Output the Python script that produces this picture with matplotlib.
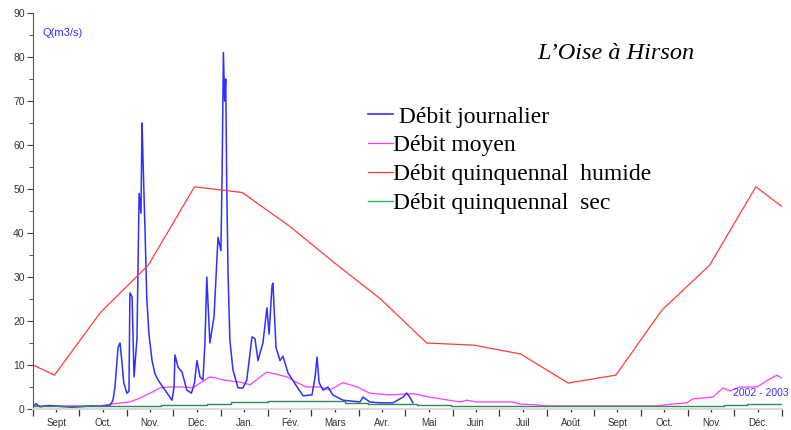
import numpy as np
import matplotlib
matplotlib.use('Agg')
import matplotlib.pyplot as plt

# axe des temps : jours depuis le 1er septembre 2002
t0 = np.datetime64('2002-09-01')
mois = ['Sept', 'Oct.', 'Nov.', 'Déc.', 'Jan.', 'Fév.', 'Mars', 'Avr.',
        'Mai', 'Juin', 'Juil', 'Août', 'Sept', 'Oct.', 'Nov.', 'Déc.']

# débit journalier
jour_j = [0, 2, 4.5, 10, 17.5, 25, 30.5, 38, 43.6, 50, 52, 53.3, 55.3, 56.6, 58, 59, 61, 62.4,
          63, 64.4, 65.7, 67.6, 69, 70.2, 70.9, 71.5, 72.8, 74, 75.4, 77.4, 79.3, 81.3, 85.8,
          90.4, 91.7, 92.3, 94.3, 96.9, 100, 103, 105, 106.6, 108.6, 110.5, 111.8, 113, 115,
          117.7, 120.3, 122.2, 123, 123.8, 124.6, 125.3, 126, 126.8, 128, 130, 133.3, 136.5,
          139, 142.4, 144.3, 146.3, 147.6, 149.5, 152.1, 153.5, 155.4, 156, 158, 160.6, 162.5,
          165.8, 171.7, 175.6, 181.4, 183.4, 184.7, 186, 188.6, 191.8, 195, 201.6, 212.6,
          214.6, 219, 225.6, 234, 240.6, 243, 245, 247]
debit_j = [0.6, 1.2, 0.5, 0.8, 0.6, 0.4, 0.5, 0.7, 0.6, 0.8, 2, 5, 14, 15, 10, 6, 3.6, 4,
           26.4, 25.5, 7.3, 16, 49, 44.5, 65, 57, 41, 25, 17, 11, 8, 6.6, 4.3,
           2, 5, 12.3, 9.5, 8.4, 4.3, 3.6, 6, 11, 7.3, 6.6, 15, 30, 15,
           21, 39, 36, 55, 81, 70, 75, 50, 31, 15.7, 8.9, 4.8, 4.8,
           6.6, 16.4, 16, 11, 12.7, 15, 23, 17, 28, 28.6, 14, 11, 12,
           8.2, 5, 3, 3.2, 7.3, 11.8, 6, 4.3, 5, 3.2, 2, 1.6,
           2.7, 1.6, 1.4, 1.4, 2.7, 3.6, 2.7, 1.4]

# débit moyen
jour_m = [0, 43.6, 50, 63, 69.6, 78, 82.6, 89, 97.5, 104, 108.6, 115, 119.6, 123.5, 134.6,
          141, 152, 160.6, 165, 171.7, 178, 186.6, 193, 201.6, 210.7, 219, 232, 247, 258,
          277.6, 282, 288.7, 312, 316.6, 325, 335, 405, 415, 425, 429, 442, 448.6, 453,
          459.7, 470.7, 478, 483.7, 487]
debit_m = [0.7, 0.7, 1.1, 1.6, 2.5, 3.9, 4.8, 5, 5, 4.8, 5.9, 7.3, 7, 6.6, 6.1,
           5.5, 8.4, 7.7, 7.3, 6, 5, 5, 4.3, 6, 5, 3.6, 3.2, 3.5, 2.7,
           1.6, 2, 1.6, 1.6, 1.1, 1.0, 0.7, 0.7, 1.1, 1.4, 2.3, 2.7, 4.8, 4.1,
           5, 5, 6.6, 7.7, 7]

# débit quinquennal humide (valeurs mensuelles)
dates_h = ['2002-09-01', '2002-09-15', '2002-10-15', '2002-11-15', '2002-12-15',
           '2003-01-15', '2003-02-15', '2003-03-15', '2003-04-15', '2003-05-15',
           '2003-06-15', '2003-07-15', '2003-08-15', '2003-09-15', '2003-10-15',
           '2003-11-15', '2003-12-15', '2004-01-01']
debit_h = [10, 7.7, 22, 32.7, 50.5, 49.2, 41.5, 33.5, 25, 15,
           14.5, 12.5, 5.9, 7.7, 22.5, 32.7, 50.5, 46]

# débit quinquennal sec (paliers)
dates_s = ['2002-09-01', '2002-11-23', '2002-12-23', '2003-01-08', '2003-02-01',
           '2003-03-23', '2003-04-07', '2003-05-09', '2003-05-31', '2003-11-24',
           '2003-12-09', '2003-12-25', '2004-01-01']
debit_s = [0.6, 0.8, 1.25, 1.6, 1.8, 1.4, 1.25, 0.9, 0.7, 1.0, 1.1, 1.25, 1.25]


def jours(dates):
    return (np.array(dates, dtype='datetime64[D]') - t0).astype(int)


debuts = np.arange('2002-09', '2004-01', dtype='datetime64[M]').astype('datetime64[D]')
bornes = (np.append(debuts, np.datetime64('2004-01-01')) - t0).astype(int)
milieux = (bornes[:-1] + bornes[1:]) / 2

fig = plt.figure(figsize=(7.91, 4.30), dpi=100)
ax = fig.add_axes([33 / 791, 21 / 430, 749 / 791, 396 / 430])

ax.plot(jour_m, debit_m, color='#ff3cff', lw=0.9, label='Débit moyen')
ax.plot(jour_j, debit_j, color='#2f2fff', lw=1.1, label=' Débit journalier')
ax.plot(jours(dates_h), debit_h, color='#ff3c3c', lw=0.9, label='Débit quinquennal  humide')
ax.step(jours(dates_s), debit_s, where='post', color='#2e8b57', lw=1.0,
        label='Débit quinquennal  sec')

ax.set_xlim(0, bornes[-1])
ax.set_ylim(0, 90)

for s in ['top', 'right']:
    ax.spines[s].set_visible(False)
ax.spines['left'].set_color('#555555')
ax.spines['bottom'].set_color('#d8d8d8')
ax.spines['bottom'].set_linewidth(1.5)

ax.set_xticks(bornes)
ax.set_xticklabels([])
ax.set_xticks(milieux, minor=True)
ax.set_xticklabels(mois, minor=True)
ax.tick_params(axis='x', which='major', length=5, color='#333333', width=0.9)
ax.tick_params(axis='x', which='minor', length=2.5, color='#333333', width=0.9,
               labelsize=7, labelcolor='#333333', pad=4)
ax.set_yticks(np.arange(0, 91, 10))
ax.set_yticks(np.arange(5, 90, 10), minor=True)
ax.tick_params(axis='y', which='major', length=4, color='#444444', labelsize=7.5,
               labelcolor='#333333', pad=2)
ax.tick_params(axis='y', which='minor', length=3, color='#444444')
for lab in ax.get_xticklabels(minor=True) + ax.get_yticklabels():
    lab.set_family('Liberation Sans')

ax.text(0.013, 0.95, 'Q(m3/s)', transform=ax.transAxes, color='#3030ff',
        fontsize=8, family='Liberation Sans', va='center')
fig.text(789 / 791, 1 - 393 / 430, '2002 - 2003', color='#3030ff',
         fontsize=7.5, family='Liberation Sans', va='center', ha='right')

fig.text(537 / 791, 1 - 59 / 430, 'L\u2019Oise à Hirson', family='Liberation Serif',
         style='italic', fontsize=17.5, va='baseline')

h, l = ax.get_legend_handles_labels()
ordre = [1, 0, 2, 3]
leg = ax.legend([h[i] for i in ordre], [l[i] for i in ordre], frameon=False,
                loc='upper left', bbox_to_anchor=(368 / 791, 1 - 106 / 430),
                bbox_transform=fig.transFigure, prop={'family': 'Liberation Serif', 'size': 17},
                handlelength=1.05, handletextpad=0.0, labelspacing=0.31, borderpad=0,
                borderaxespad=0)
leg_colors = ['#2020ff', '#ff3cff', '#ff3c3c', '#20c060']
for line, c in zip(leg.get_lines(), leg_colors):
    line.set_color(c)

fig.savefig('out.png', dpi=100)
